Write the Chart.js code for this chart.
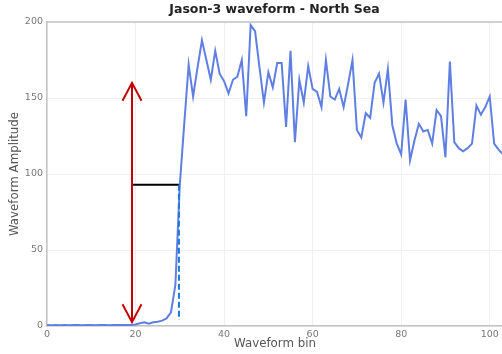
<!DOCTYPE html>
<html>
<head>
<meta charset="utf-8">
<script src="https://cdn.jsdelivr.net/npm/chart.js@4.4.1/dist/chart.umd.min.js"></script>
<style>
  html, body { margin: 0; padding: 0; background: #fff; overflow: hidden; }
  #chart { display: block; }
</style>
</head>
<body>
<canvas id="chart" width="549" height="354"></canvas>
<script>
// Waveform amplitude for each bin
const bins = [];
const amplitudes = [
    0.6, 0.5, 0.6, 0.5, 0.6, 0.5, 0.6, 0.6, 0.5, 0.6,
    0.6, 0.5, 0.6, 0.6, 0.5, 0.6, 0.6, 0.7, 0.6, 0.7,
    1.0, 1.8, 2.4, 1.5, 2.4, 2.8, 3.5, 5, 9, 27,
    93, 133, 172, 151, 170, 188, 175, 162, 181, 166,
    161, 153, 162, 164, 175, 138, 198, 194, 170, 147,
    167, 157, 173, 173, 131, 181, 121, 162, 147, 171,
    156, 154, 144, 175, 151, 149, 156, 144, 159, 175,
    129, 124, 140, 137, 160, 166, 147, 169, 132, 120,
    113, 149, 109, 122, 133, 128, 129, 120, 142, 138,
    111, 174, 121, 117, 115, 117, 120, 145, 139, 144,
    151, 120, 116, 113
];
for (let i = 0; i < amplitudes.length; i++) bins.push(i);

// Axis ticks
const xTicks = [0, 20, 40, 60, 80, 100];
const yTicks = [0, 50, 100, 150, 200];

// Annotation: red double arrow, half-power line, leading edge marker
const arrowBin = 19.2;
const arrowTop = 160;
const arrowBottom = 2.5;
const halfPower = 93;
const edgeBin = 29.8;
const edgeBottom = 4;

const waveform = bins.map((b, i) => ({ x: b, y: amplitudes[i] }));

// open arrow heads + top/right frame lines
const extrasPlugin = {
    id: 'extras',
    afterDatasetsDraw(chart) {
        const ctx = chart.ctx;
        const xs = chart.scales.x, ys = chart.scales.y;
        const ax = xs.getPixelForValue(arrowBin);
        const top = ys.getPixelForValue(arrowTop);
        const bot = ys.getPixelForValue(arrowBottom);
        ctx.save();
        ctx.strokeStyle = '#c40000';
        ctx.lineWidth = 2;
        ctx.beginPath();
        ctx.moveTo(ax - 9.5, top + 18); ctx.lineTo(ax, top); ctx.lineTo(ax + 9.5, top + 18);
        ctx.moveTo(ax - 9.5, bot - 18); ctx.lineTo(ax, bot); ctx.lineTo(ax + 9.5, bot - 18);
        ctx.stroke();
        ctx.restore();
    },
    beforeDatasetsDraw(chart) {
        const ctx = chart.ctx;
        const a = chart.chartArea;
        ctx.save();
        ctx.strokeStyle = '#c4c4c4';
        ctx.lineWidth = 1.5;
        ctx.beginPath();
        ctx.moveTo(a.left, a.top);
        ctx.lineTo(a.right, a.top);
        ctx.lineTo(a.right, a.bottom);
        ctx.stroke();
        ctx.restore();
    }
};

const chart = new Chart(document.getElementById('chart').getContext('2d'), {
    type: 'line',
    data: {
        datasets: [
            {
                data: [{ x: arrowBin, y: arrowBottom }, { x: arrowBin, y: arrowTop }],
                borderColor: '#c40000',
                borderWidth: 2,
                pointRadius: 0,
                order: 1
            },
            {
                data: [{ x: arrowBin, y: halfPower }, { x: edgeBin, y: halfPower }],
                borderColor: '#000000',
                borderWidth: 2,
                pointRadius: 0,
                order: 2
            },
            {
                data: [{ x: edgeBin, y: halfPower }, { x: edgeBin, y: edgeBottom }],
                borderColor: '#1f78d8',
                borderWidth: 2,
                borderDash: [6, 3],
                pointRadius: 0,
                order: 0
            },
            {
                data: waveform,
                borderColor: '#5f7fe2',
                borderWidth: 2,
                pointRadius: 0,
                tension: 0,
                order: 5
            }
        ]
    },
    options: {
        responsive: false,
        animation: false,
        layout: { padding: 0 },
        plugins: {
            legend: { display: false },
            tooltip: { enabled: false },
            title: {
                display: true,
                text: 'Jason-3 waveform - North Sea',
                color: '#222',
                font: { family: 'DejaVu Sans', size: 12.5, weight: 'bold' },
                padding: { top: 2, bottom: 5 }
            }
        },
        scales: {
            x: {
                type: 'linear',
                min: 0,
                max: 103,
                afterBuildTicks: (s) => { s.ticks = xTicks.map(v => ({ value: v })); },
                afterFit: (s) => { s.height = 28; },
                grid: { color: '#f0f0f0', drawTicks: false },
                border: { color: '#c4c4c4', width: 1.5 },
                ticks: {
                    color: '#777',
                    padding: 3,
                    maxRotation: 0,
                    font: { family: 'DejaVu Sans', size: 9.5 }
                },
                title: {
                    display: true,
                    text: 'Waveform bin',
                    color: '#555',
                    font: { family: 'DejaVu Sans', size: 11.8 },
                    padding: { top: 0, bottom: 3 }
                }
            },
            y: {
                min: 0,
                max: 200,
                afterBuildTicks: (s) => { s.ticks = yTicks.map(v => ({ value: v })); },
                afterFit: (s) => { s.width = 47; },
                grid: { color: '#f0f0f0', drawTicks: false },
                border: { color: '#c4c4c4', width: 1.5 },
                ticks: {
                    color: '#777',
                    padding: 4,
                    font: { family: 'DejaVu Sans', size: 9.5 }
                },
                title: {
                    display: true,
                    text: 'Waveform Amplitude',
                    color: '#555',
                    font: { family: 'DejaVu Sans', size: 11.8 },
                    padding: { top: 8, bottom: 0 }
                }
            },
            // empty right margin so the plot box is centred under the title
            yRight: {
                type: 'linear',
                position: 'right',
                min: 0,
                max: 200,
                afterFit: (s) => { s.width = 46; },
                grid: { display: false, drawTicks: false },
                border: { display: false },
                ticks: { display: false }
            }
        }
    },
    plugins: [extrasPlugin]
});
</script>
</body>
</html>
